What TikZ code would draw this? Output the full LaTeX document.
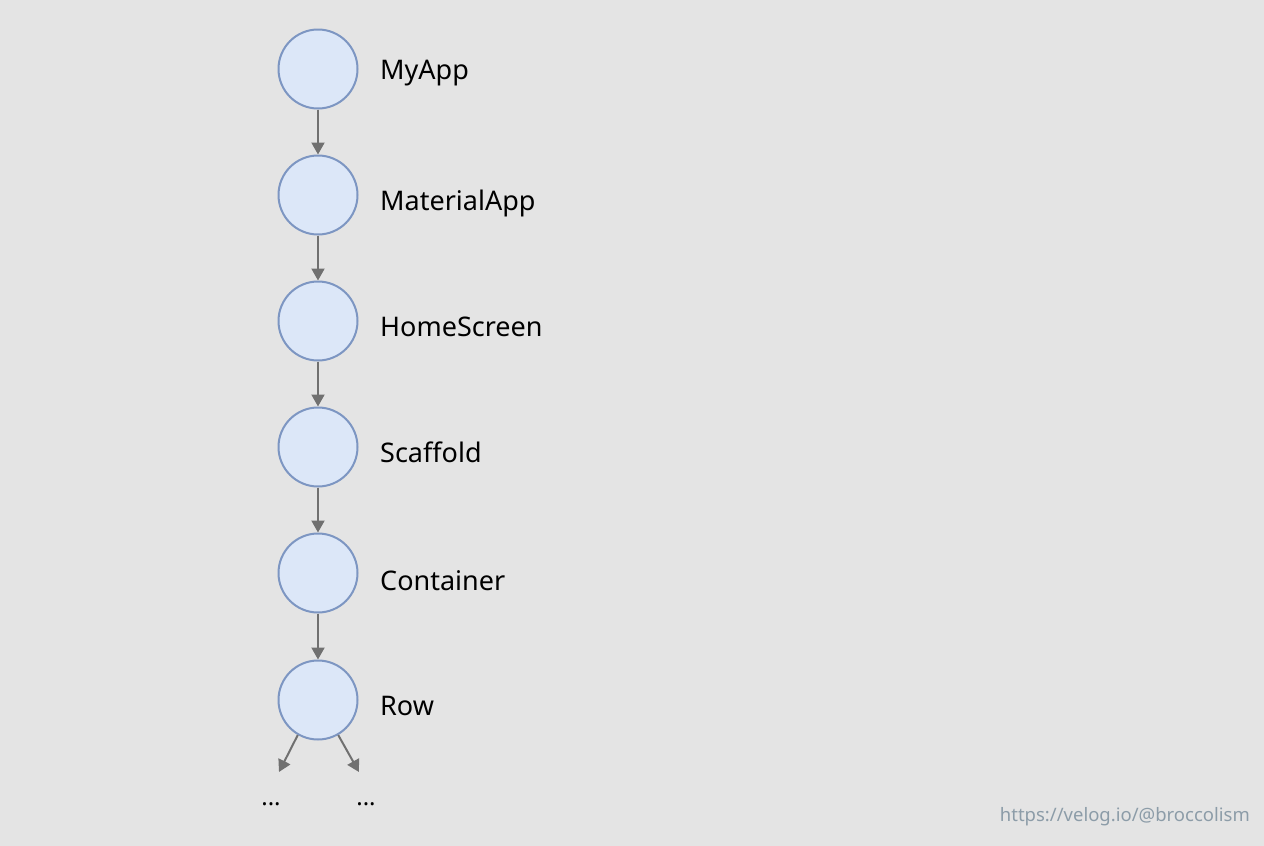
\documentclass[tikz,border=0pt]{standalone}
\usepackage{fontspec}
\setmainfont{Noto Sans}
\usetikzlibrary{arrows.meta}
\definecolor{bg}{HTML}{E4E4E4}
\definecolor{cfill}{HTML}{DCE7F8}
\definecolor{cdraw}{HTML}{7D96C2}
\definecolor{arr}{HTML}{707070}
\definecolor{wm}{HTML}{8C9CA8}
\tikzset{
  widget/.style={circle, draw=cdraw, fill=cfill, line width=2pt, minimum size=79pt, inner sep=0pt},
  lbl/.style={anchor=base west, font=\fontsize{27}{31}\selectfont, text=black, inner sep=0pt},
  edge/.style={draw=arr, line width=2pt, -{Triangle[length=12pt,width=13pt]}},
  dots/.style={anchor=base, font=\fontsize{24}{28}\selectfont, inner sep=0pt}
}
\begin{document}
\begin{tikzpicture}[x=1pt,y=-1pt]
\fill[bg] (0,0) rectangle (1264,846);
\useasboundingbox (0,0) rectangle (1264,846);
\node[widget] (n1) at (318,69) {};
\node[widget] (n2) at (318,195) {};
\node[widget] (n3) at (318,321) {};
\node[widget] (n4) at (318,447) {};
\node[widget] (n5) at (318,573) {};
\node[widget] (n6) at (318,700) {};
\node[lbl] (l1) at (380,79) {MyApp};
\node[lbl] (l2) at (380,210) {MaterialApp};
\node[lbl] (l3) at (380,336) {HomeScreen};
\node[lbl] (l4) at (380,462) {Scaffold};
\node[lbl] (l5) at (380,590) {Container};
\node[lbl] (l6) at (380,715) {Row};
\draw[edge] (n1) -- (n2);
\draw[edge] (n2) -- (n3);
\draw[edge] (n3) -- (n4);
\draw[edge] (n4) -- (n5);
\draw[edge] (n5) -- (n6);
\node[dots] (d1) at (271,805) {...};
\node[dots] (d2) at (366,805) {...};
\coordinate (e1) at (279,772);
\coordinate (e2) at (359,772);
\draw[edge] (n6.240) -- (e1);
\draw[edge] (n6.300) -- (e2);
\node[anchor=base east, font=\fontsize{18.5}{22}\selectfont, text=wm, inner sep=0pt] (wm) at (1250,821) {https://velog.io/@broccolism};
\end{tikzpicture}
\end{document}
